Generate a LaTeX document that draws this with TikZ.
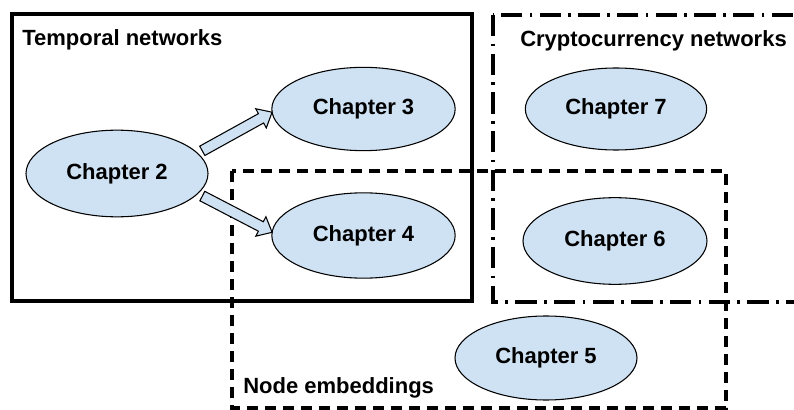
\documentclass[tikz,border=0pt]{standalone}
\usepackage{fontspec}
\setmainfont{Liberation Sans}
\usetikzlibrary{shapes.geometric,calc}
\definecolor{chapfill}{HTML}{CFE2F3}

% Block arrow from #1 to #2 (shaft 10.5px, head 22px wide, 12.5px long)
\newcommand{\blockarrow}[2]{%
  \coordinate (hb) at ($(#2)!9.5pt!(#1)$);
  \draw[arrowbody]
    ($(#1)!4pt!90:(#2)$) -- ($(hb)!4pt!90:(#2)$) -- ($(hb)!8.2pt!90:(#2)$)
    -- (#2)
    -- ($(hb)!8.2pt!-90:(#2)$) -- ($(hb)!4pt!-90:(#2)$) -- ($(#1)!4pt!-90:(#2)$)
    -- cycle;
}

\begin{document}
\begin{tikzpicture}[x=0.75pt,y=-0.75pt,
  chapter/.style={ellipse, draw=black, line width=0.8pt, fill=chapfill,
    inner sep=0pt, outer sep=0pt,
    font=\bfseries\fontsize{16.5}{19}\selectfont},
  grouplabel/.style={anchor=base west, inner sep=0pt,
    font=\bfseries\fontsize{16.5}{19}\selectfont},
  arrowbody/.style={draw=black, line width=0.8pt, fill=chapfill, line join=miter},
  solidframe/.style={draw=black, line width=2.3pt},
  dashframe/.style={draw=black, line width=2.3pt, dash pattern=on 8.5pt off 5pt},
  dotdashframe/.style={draw=black, line width=2.3pt,
    dash pattern=on 16pt off 5.5pt on 2pt off 5.5pt},
]
\useasboundingbox (0,0) rectangle (794,410);
\clip (0,0) rectangle (794,410);

% group frames
\draw[solidframe] (12,14) rectangle (472,301);
\draw[dotdashframe] (493,15) rectangle (820,302);
\draw[dashframe] (232,171) rectangle (726,408);

% group labels
\node[grouplabel] (lt) at (22,46) {Temporal networks};
\node[grouplabel] (lc) at (520,47) {Cryptocurrency networks};
\node[grouplabel] (ln) at (243,393) {Node embeddings};

% chapters (sizes in pt = px * 0.75)
\node[chapter, minimum width=136.5pt, minimum height=65pt] (c2) at (117,173.5) {Chapter 2};
\node[chapter, minimum width=137.5pt, minimum height=62.5pt] (c3) at (363.5,109) {Chapter 3};
\node[chapter, minimum width=137.5pt, minimum height=64pt] (c4) at (363.5,235.5) {Chapter 4};
\node[chapter, minimum width=136pt, minimum height=61.5pt] (c7) at (616,109) {Chapter 7};
\node[chapter, minimum width=138pt, minimum height=65pt] (c6) at (615,241) {Chapter 6};
\node[chapter, minimum width=136.5pt, minimum height=63pt] (c5) at (546,358) {Chapter 5};

% reading-order arrows
\coordinate (a1s) at ($(c2.14)!4pt!(c3.182)$);
\coordinate (a1e) at (c3.182);
\blockarrow{a1s}{a1e}
\coordinate (a2s) at ($(c2.-14)!4pt!(c4.178)$);
\coordinate (a2e) at (c4.178);
\blockarrow{a2s}{a2e}
\end{tikzpicture}
\end{document}
